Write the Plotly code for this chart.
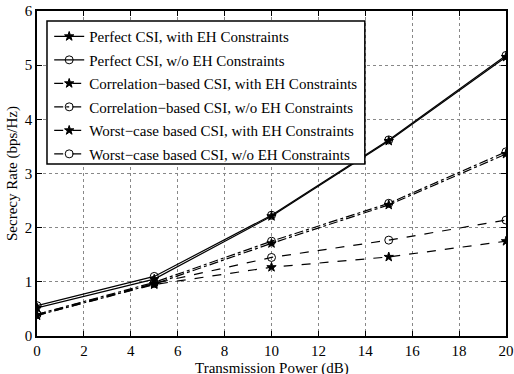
import plotly.graph_objects as go

x_power = [0, 5, 10, 15, 20]
perfect_eh = [0.52, 1.05, 2.21, 3.60, 5.15]
perfect_noeh = [0.56, 1.10, 2.23, 3.62, 5.18]
corr_eh = [0.38, 0.96, 1.71, 2.42, 3.36]
corr_noeh = [0.40, 0.99, 1.75, 2.45, 3.40]
worst_eh = [0.38, 0.95, 1.27, 1.46, 1.75]
worst_noeh = [0.40, 0.97, 1.45, 1.77, 2.14]

names = [
    "Perfect CSI, with EH Constraints",
    "Perfect CSI, w/o EH Constraints",
    "Correlation\u2212based CSI, with EH Constraints",
    "Correlation\u2212based CSI, w/o EH Constraints",
    "Worst\u2212case based CSI, with EH Constraints",
    "Worst\u2212case based CSI, w/o EH Constraints",
]
series = [perfect_eh, perfect_noeh, corr_eh, corr_noeh, worst_eh, worst_noeh]
dashes = ["solid", "solid", "dashdot", "dashdot", "dash", "dash"]
symbols = ["star", "circle-open", "star", "circle-open", "star", "circle-open"]

fig = go.Figure()
for i, (nm, ys, d, s) in enumerate(zip(names, series, dashes, symbols)):
    fig.add_trace(go.Scatter(
        x=x_power, y=ys, name=nm, mode="lines+markers",
        line=dict(color="black", width=1.2, dash=d),
        marker=dict(symbol=s, size=7 if s == "star" else 8, color="black",
                    line=dict(color="black", width=1)),
        legendgroup=f"g{i}",
    ))

font = "Liberation Serif, Times New Roman, serif"
axis_common = dict(
    showline=True, linecolor="black", linewidth=1.5, mirror="ticks",
    ticks="inside", ticklen=5, tickcolor="black", automargin=False,
    showgrid=True, gridcolor="#888888", griddash="dot", gridwidth=1,
    zeroline=False, tickfont=dict(family=font, size=15, color="black"),
)
fig.update_xaxes(range=[0, 20], dtick=2, **axis_common)
fig.update_yaxes(range=[0, 6], dtick=1, **axis_common,
                 title=dict(text="Secrecy Rate (bps/Hz)", font=dict(family=font, size=15, color="black"), standoff=4))

fig.add_annotation(text="Transmission Power (dB)", xref="paper", yref="paper",
                   x=0.5, y=-0.0985, xanchor="center", yanchor="middle", showarrow=False,
                   font=dict(family=font, size=15, color="black"))

# legend frame
fig.add_shape(type="rect", xref="paper", yref="paper",
              x0=0.0213, x1=0.699, y0=0.529, y1=0.969,
              line=dict(color="black", width=1.5), fillcolor="white", layer="above")

fig.update_layout(
    width=514, height=374,
    margin=dict(l=37, r=8, t=11, b=38, autoexpand=False),
    plot_bgcolor="white", paper_bgcolor="white",
    legend=dict(x=0.026, y=0.972, xanchor="left", yanchor="top",
                bgcolor="rgba(0,0,0,0)", borderwidth=0,
                font=dict(family=font, size=15, color="black"),
                traceorder="grouped", tracegroupgap=1),
)
fig.write_html("out.html")
